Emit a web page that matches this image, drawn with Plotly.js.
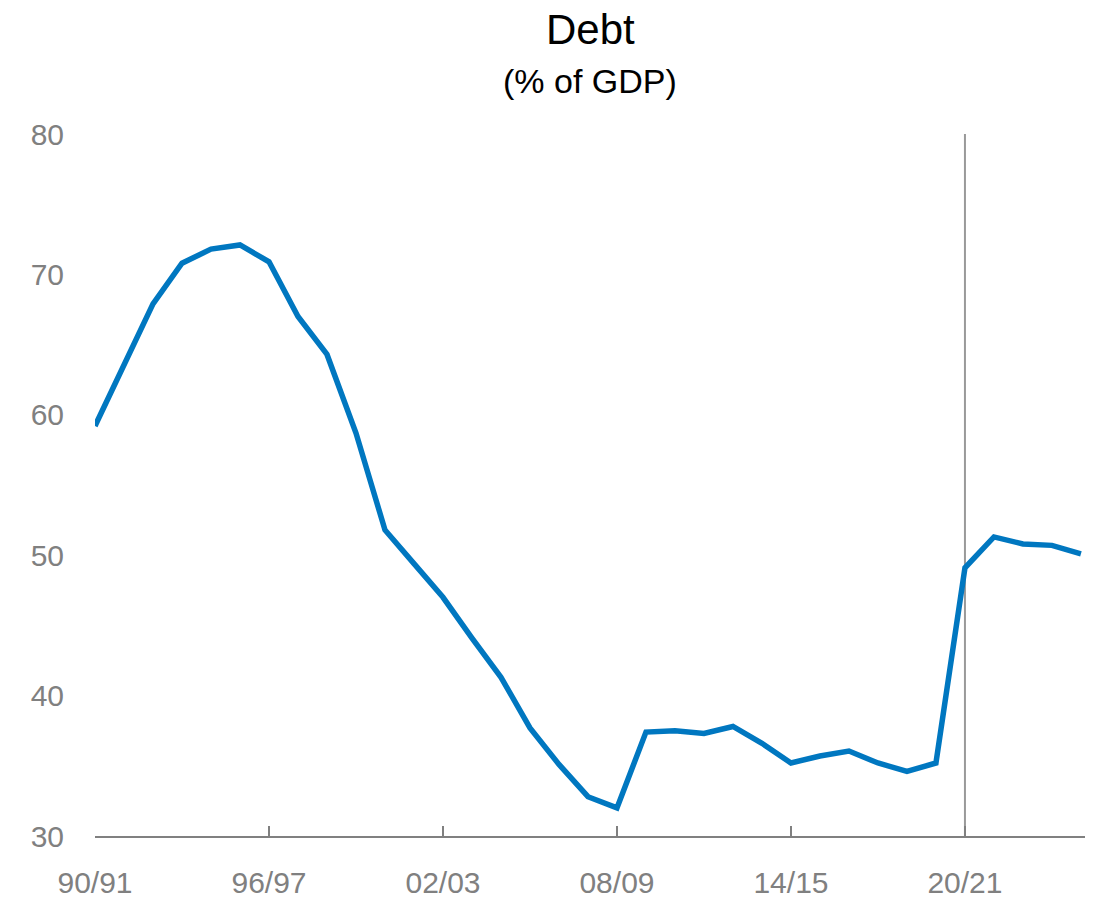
<!DOCTYPE html>
<html>
<head>
<meta charset="utf-8">
<script src="https://cdn.plot.ly/plotly-3.0.1.min.js"></script>
<style>
  html, body { margin: 0; padding: 0; background: #fff; }
  #chart { width: 1099px; height: 901px; }
</style>
</head>
<body>
<div id="chart"></div>
<script>
const years = ['90/91','91/92','92/93','93/94','94/95','95/96','96/97','97/98','98/99','99/00',
               '00/01','01/02','02/03','03/04','04/05','05/06','06/07','07/08','08/09','09/10',
               '10/11','11/12','12/13','13/14','14/15','15/16','16/17','17/18','18/19','19/20',
               '20/21','21/22','22/23','23/24','24/25'];
const debt = [59.2, 63.6, 67.9, 70.8, 71.8, 72.1, 70.9, 67.0, 64.3, 58.7,
              51.8, 49.4, 47.0, 44.1, 41.3, 37.7, 35.1, 32.8, 32.0, 37.4,
              37.5, 37.3, 37.8, 36.6, 35.2, 35.7, 36.05, 35.2, 34.6, 35.2,
              49.1, 51.3, 50.8, 50.7, 50.1];
const tickLabels = ['90/91','96/97','02/03','08/09','14/15','20/21'];
const yTicks = [30, 40, 50, 60, 70, 80];
const markerYear = '20/21';
const titleText = 'Debt';
const subtitleText = '(% of GDP)';

const gray = '#808080';
const font = 'Liberation Sans, Arial, sans-serif';

const trace = {
  x: years,
  y: debt,
  type: 'scatter',
  mode: 'lines',
  line: { color: '#0077C0', width: 5.5 },
  hoverinfo: 'x+y',
  cliponaxis: true
};

const layout = {
  width: 1099,
  height: 901,
  margin: { l: 95, r: 14, t: 134, b: 65 },
  paper_bgcolor: '#ffffff',
  plot_bgcolor: '#ffffff',
  showlegend: false,
  annotations: [{
    text: titleText,
    xref: 'paper', yref: 'paper',
    x: 0.5, y: 1, yshift: 105,
    xanchor: 'center', yanchor: 'middle',
    showarrow: false,
    font: { family: font, size: 42, color: '#000000' }
  }, {
    text: subtitleText,
    xref: 'paper', yref: 'paper',
    x: 0.5, y: 1, yshift: 53,
    xanchor: 'center', yanchor: 'middle',
    showarrow: false,
    font: { family: font, size: 34, color: '#000000' }
  }],
  xaxis: {
    type: 'category',
    range: [0, 34.14],
    tickmode: 'array',
    tickvals: tickLabels,
    ticktext: tickLabels,
    ticks: 'inside',
    ticklen: 10,
    tickwidth: 2,
    tickcolor: gray,
    showline: true,
    linecolor: gray,
    linewidth: 2,
    showgrid: false,
    zeroline: false,
    ticklabelstandoff: 19,
    tickfont: { family: font, size: 30, color: gray },
    fixedrange: true
  },
  yaxis: {
    range: [30, 80],
    tickmode: 'array',
    tickvals: yTicks,
    ticks: '',
    showline: false,
    showgrid: false,
    zeroline: false,
    ticklabelstandoff: 30,
    tickfont: { family: font, size: 30, color: gray },
    fixedrange: true
  },
  shapes: [{
    type: 'line',
    xref: 'x', yref: 'paper',
    x0: markerYear, x1: markerYear,
    y0: 0, y1: 1,
    line: { color: '#999999', width: 2 },
    layer: 'below'
  }]
};

Plotly.newPlot('chart', [trace], layout, { displayModeBar: false, staticPlot: true });
</script>
</body>
</html>
